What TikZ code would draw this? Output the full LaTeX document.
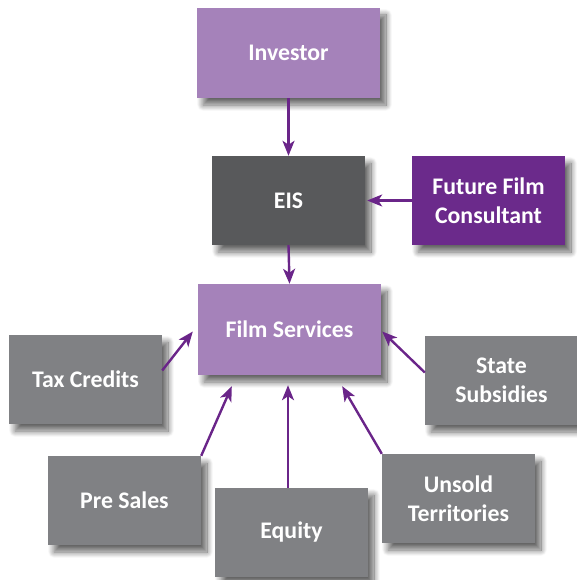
\documentclass[tikz,border=0pt]{standalone}
\usepackage{fontspec}
\setmainfont{Carlito}
\usetikzlibrary{arrows.meta,shadows.blur}
\definecolor{lilac}{HTML}{A582BA}
\definecolor{darkslate}{HTML}{58595B}
\definecolor{deepviolet}{HTML}{6B2A8B}
\definecolor{midgray}{HTML}{808184}
\definecolor{arrowviolet}{HTML}{6A2589}
\tikzset{
  box/.style={rectangle, minimum width=153pt, minimum height=89pt, inner sep=0pt,
    align=center, text=white, font=\fontsize{23.8}{28.5}\selectfont\bfseries,
    blur shadow={shadow xshift=6pt, shadow yshift=-7pt, shadow blur radius=6pt,
      shadow blur steps=14, shadow opacity=60}},
  widebox/.style={box, minimum width=183pt, minimum height=90pt},
  flow/.style={draw=arrowviolet, line width=2.4pt,
    -{Stealth[length=15pt, width=12pt, inset=4pt]}},
}
\begin{document}
\begin{tikzpicture}[x=1pt, y=-1pt]
  \useasboundingbox (0,0) rectangle (576,580);

  % top of the chain
  \node[widebox, fill=lilac] (investor) at (288.5,53) {Investor};
  \node[box, fill=darkslate] (eis) at (288.5,200.5) {EIS};
  \node[box, fill=deepviolet] (ffc) at (488.5,200.5) {Future Film\\Consultant};
  \node[widebox, fill=lilac, minimum height=91pt] (fs) at (289.5,329.5) {Film Services};

  % funding sources
  \node[box, fill=midgray] (tax) at (85.5,379.5) {Tax Credits};
  \node[box, fill=midgray] (state) at (501.5,380.5) {State\\Subsidies};
  \node[box, fill=midgray] (pre) at (124.5,500.5) {Pre Sales};
  \node[box, fill=midgray] (unsold) at (458.5,498.5) {Unsold\\Territories};
  \node[box, fill=midgray] (equity) at (291.5,532.5) {Equity};

  % connectors
  \draw[flow] (investor.south) -- (eis.north);
  \draw[flow] (eis.south) -- (fs.north);
  \draw[flow] (ffc.west) -- ([xshift=2pt]eis.east);
  \draw[flow] ([yshift=9pt]tax.east) -- ([xshift=-5pt,yshift=-2pt]fs.west);
  \draw[flow] (pre.north east) -- ([xshift=34pt,yshift=-11pt]fs.south west);
  \draw[flow] ([xshift=-3.5pt]equity.north) -- ([xshift=-1.5pt,yshift=-10pt]fs.south);
  \draw[flow] (unsold.north west) -- ([xshift=-39pt,yshift=-11pt]fs.south east);
  \draw[flow] ([yshift=8pt]state.west) -- ([xshift=1pt,yshift=-2pt]fs.east);
\end{tikzpicture}
\end{document}
